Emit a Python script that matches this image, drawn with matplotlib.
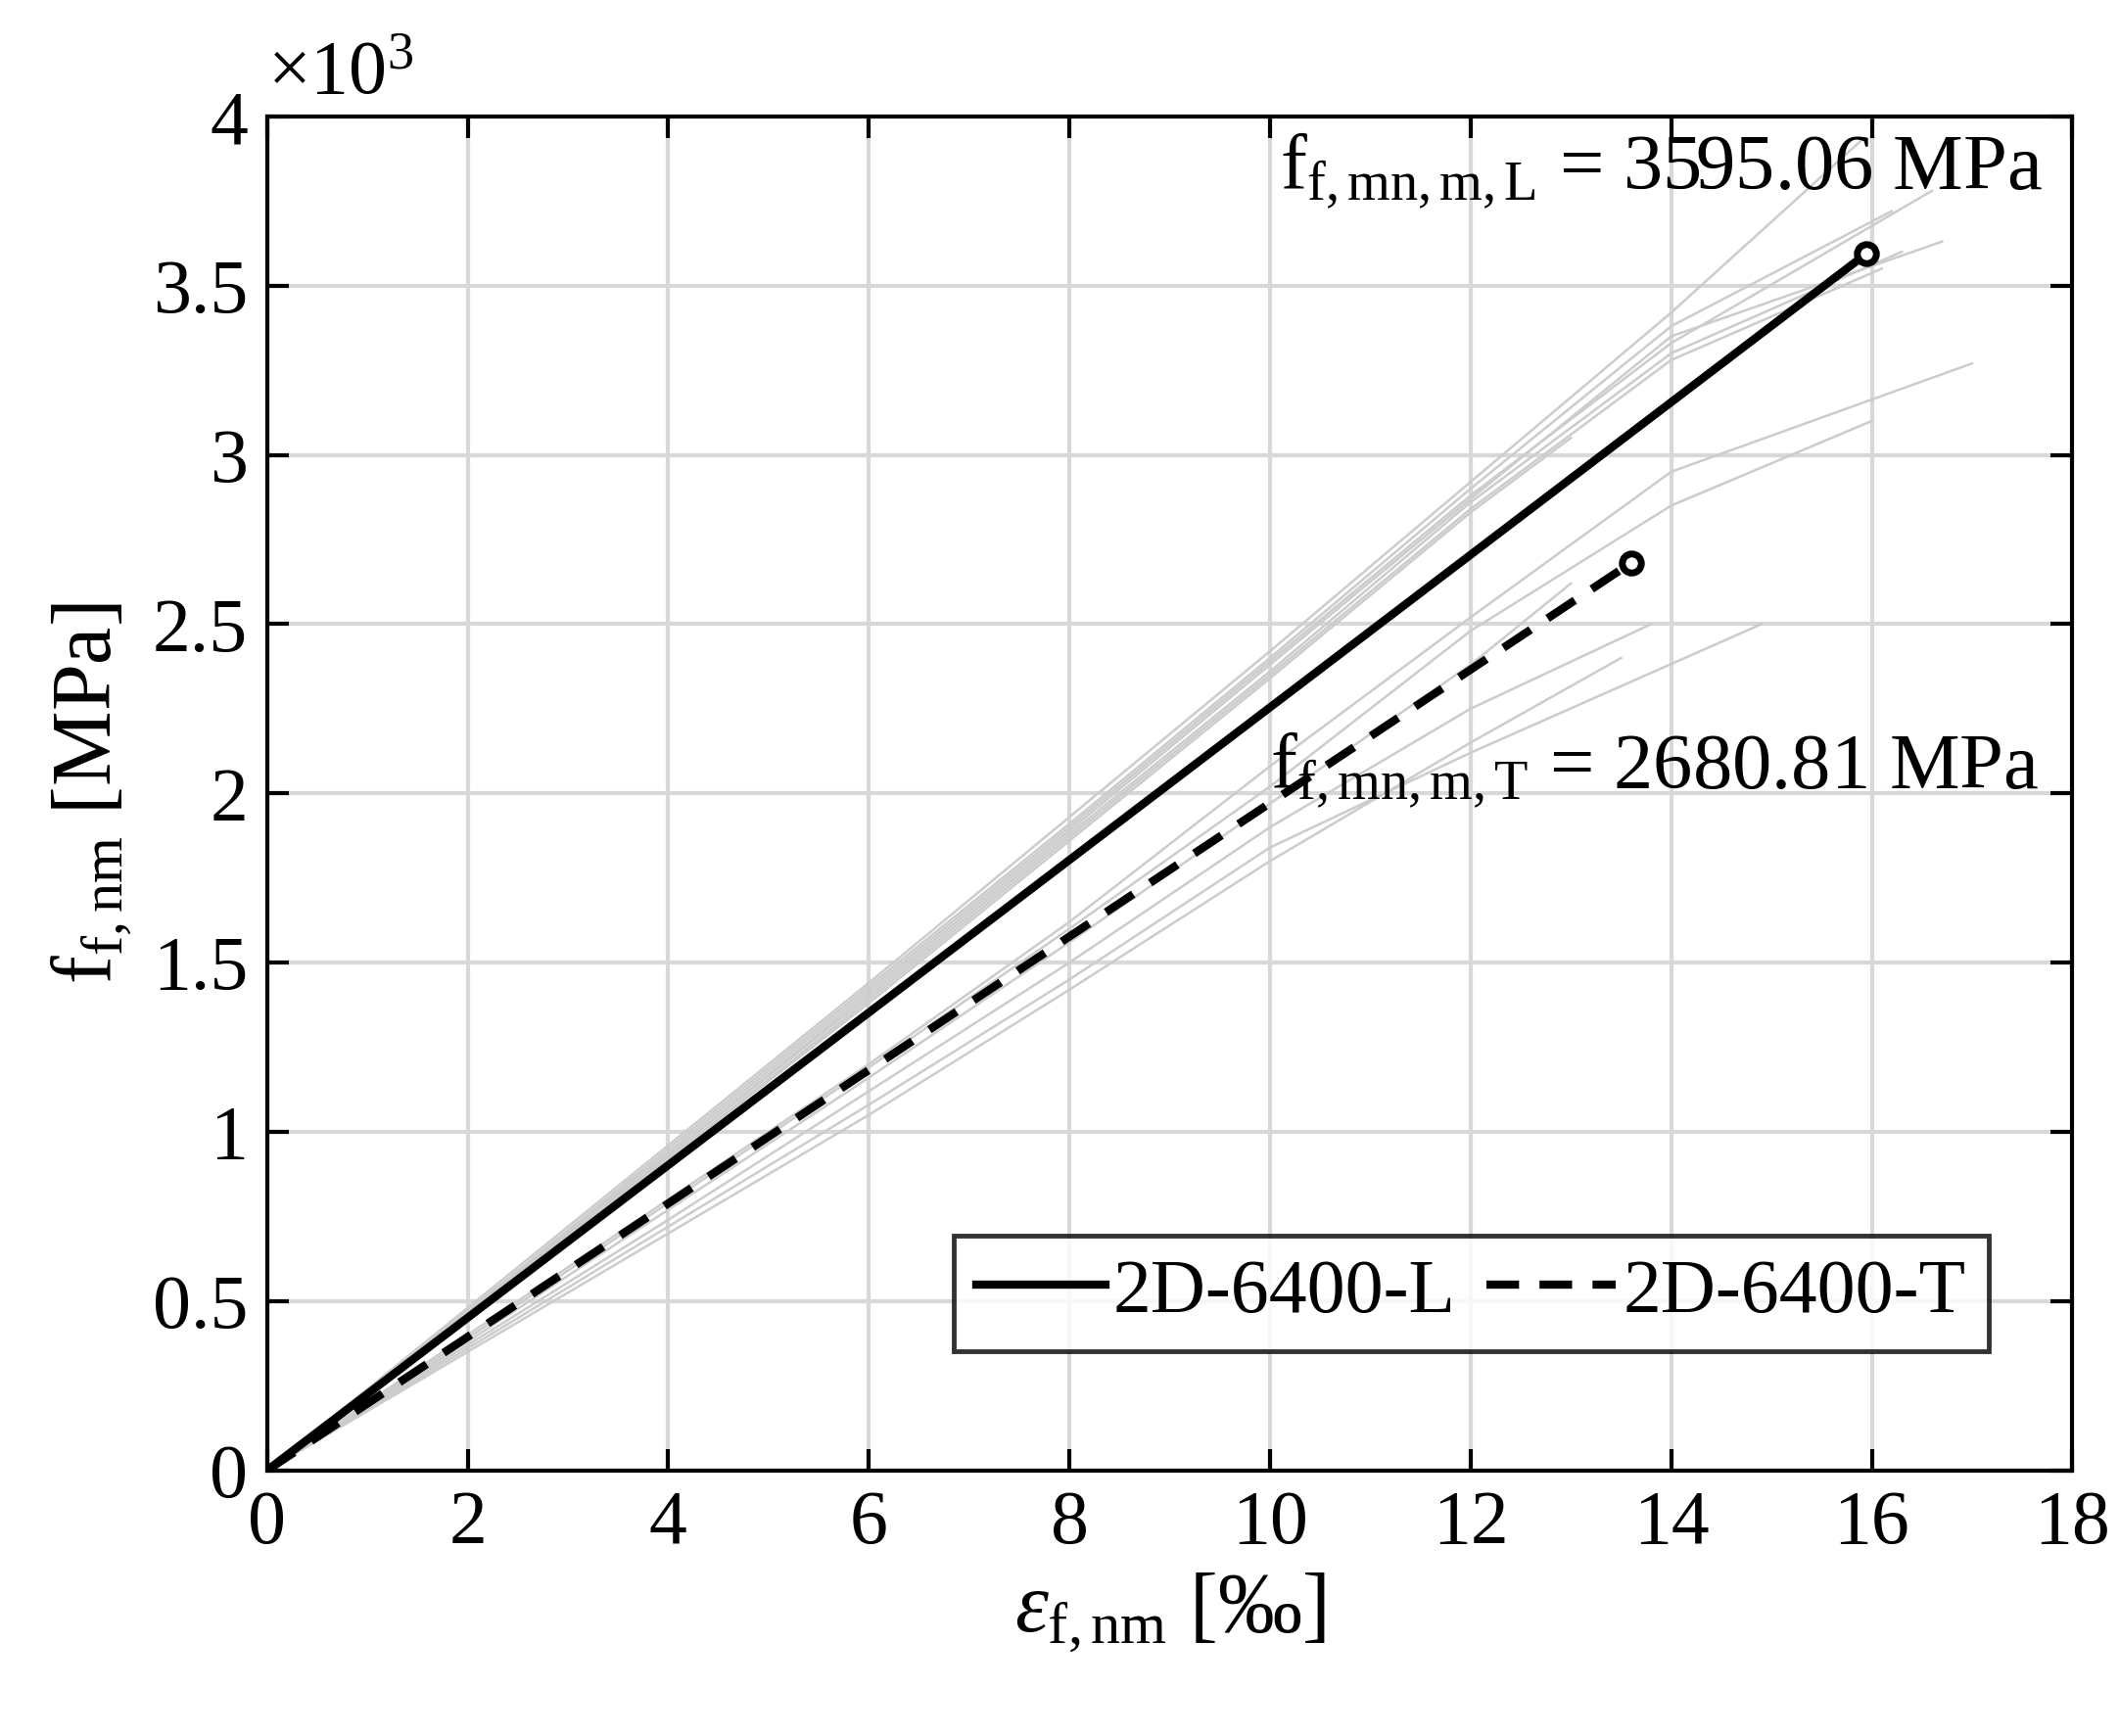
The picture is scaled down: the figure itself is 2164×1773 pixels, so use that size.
import matplotlib
matplotlib.use("Agg")
import matplotlib.pyplot as plt

plt.rcParams['font.family'] = ['Liberation Serif', 'DejaVu Serif']
plt.rcParams['mathtext.fontset'] = 'custom'
plt.rcParams['mathtext.rm'] = 'Liberation Serif'
plt.rcParams['mathtext.it'] = 'Liberation Serif:italic'

# Gray specimen curves (strain ‰, stress ×10^3 MPa)
spec_L = [
    ([0, 2, 4, 6, 8, 10, 12, 14, 15.9], [0, 0.48, 0.96, 1.44, 1.93, 2.42, 2.92, 3.42, 3.93]),
    ([0, 2, 4, 6, 8, 10, 12, 14, 16.6], [0, 0.47, 0.94, 1.42, 1.90, 2.39, 2.88, 3.33, 3.78]),
    ([0, 2, 4, 6, 8, 10, 12, 14, 16.3], [0, 0.47, 0.93, 1.40, 1.88, 2.36, 2.86, 3.30, 3.60]),
    ([0, 2, 4, 6, 8, 10, 12, 14, 16.1], [0, 0.46, 0.92, 1.39, 1.87, 2.35, 2.84, 3.28, 3.55]),
    ([0, 2, 4, 6, 8, 10, 12, 14, 16.7], [0, 0.46, 0.93, 1.41, 1.89, 2.38, 2.87, 3.35, 3.63]),
    ([0, 2, 4, 6, 8, 10, 12, 14, 16.2], [0, 0.47, 0.95, 1.43, 1.91, 2.40, 2.90, 3.38, 3.72]),
    ([0, 2, 4, 6, 8, 10, 12, 13.0], [0, 0.46, 0.92, 1.38, 1.86, 2.34, 2.83, 3.05]),
]
spec_T = [
    ([0, 2, 4, 6, 8, 10, 12, 14, 17.0], [0, 0.40, 0.80, 1.20, 1.62, 2.08, 2.52, 2.95, 3.27]),
    ([0, 2, 4, 6, 8, 10, 12, 14.9], [0, 0.36, 0.72, 1.08, 1.45, 1.84, 2.12, 2.50]),
    ([0, 2, 4, 6, 8, 10, 12, 13.8], [0, 0.37, 0.74, 1.12, 1.50, 1.90, 2.25, 2.50]),
    ([0, 2, 4, 6, 8, 10, 12, 13.0], [0, 0.38, 0.77, 1.16, 1.56, 1.97, 2.38, 2.62]),
    ([0, 2, 4, 6, 8, 10, 12, 14, 16.0], [0, 0.39, 0.79, 1.19, 1.60, 2.02, 2.48, 2.85, 3.10]),
    ([0, 2, 4, 6, 8, 10, 12, 13.5], [0, 0.35, 0.70, 1.05, 1.42, 1.80, 2.15, 2.40]),
]
mean_L = ([0, 15.95], [0, 3.59506])
mean_T = ([0, 13.6], [0, 2.68081])

fig = plt.figure(figsize=(21.64, 17.73), dpi=100)
ax = fig.add_axes([0.126, 0.153, 0.852, 0.78])

for x, y in spec_L + spec_T:
    ax.plot(x, y, color='#cccccc', lw=1.8)

ax.plot(*mean_L, color='black', lw=6, label='2D-6400-L')
ax.plot(*mean_T, color='black', lw=6, ls=(0, (4, 2.5)), label='2D-6400-T')
ax.plot(mean_L[0][-1], mean_L[1][-1], 'o', mfc='white', mec='black', ms=14, mew=5)
ax.plot(mean_T[0][-1], mean_T[1][-1], 'o', mfc='white', mec='black', ms=14, mew=5)

ax.text(10.1, 3.84, r'f$_{\mathrm{f,mn,m,L}}$ = 3595.06 MPa', fontsize=58, va='center')
ax.text(10.0, 2.07, r'f$_{\mathrm{f,mn,m,T}}$ = 2680.81 MPa', fontsize=58, va='center')

ax.set_xlim(0, 18)
ax.set_ylim(0, 4)
ax.set_xticks(range(0, 19, 2))
ax.set_yticks([0, 0.5, 1, 1.5, 2, 2.5, 3, 3.5, 4])
ax.set_yticklabels(['0', '0.5', '1', '1.5', '2', '2.5', '3', '3.5', '4'])
ax.tick_params(labelsize=56, width=3, length=16, direction='in', top=True, right=True, pad=14)
ax.grid(True, color='#d8d8d8', lw=3)
ax.set_axisbelow(True)
for s in ax.spines.values():
    s.set_linewidth(3)
ax.set_xlabel(r'$\epsilon_{\mathrm{f,nm}}$ [‰]', fontsize=62, labelpad=8)
ax.set_ylabel(r'f$_{\mathrm{f,nm}}$ [MPa]', fontsize=62, labelpad=14)
ax.text(0.0, 1.005, r'$\times\mathrm{10}^\mathrm{3}$', transform=ax.transAxes, fontsize=56, va='bottom')

leg = ax.legend(loc='lower right', bbox_to_anchor=(0.975, 0.06), ncol=2, fontsize=56, frameon=True,
                fancybox=False, edgecolor='black', handlelength=1.7, columnspacing=0.4,
                handletextpad=0.1, borderpad=0.3)
leg.get_frame().set_linewidth(3.5)

fig.savefig('out.png', dpi=100)
